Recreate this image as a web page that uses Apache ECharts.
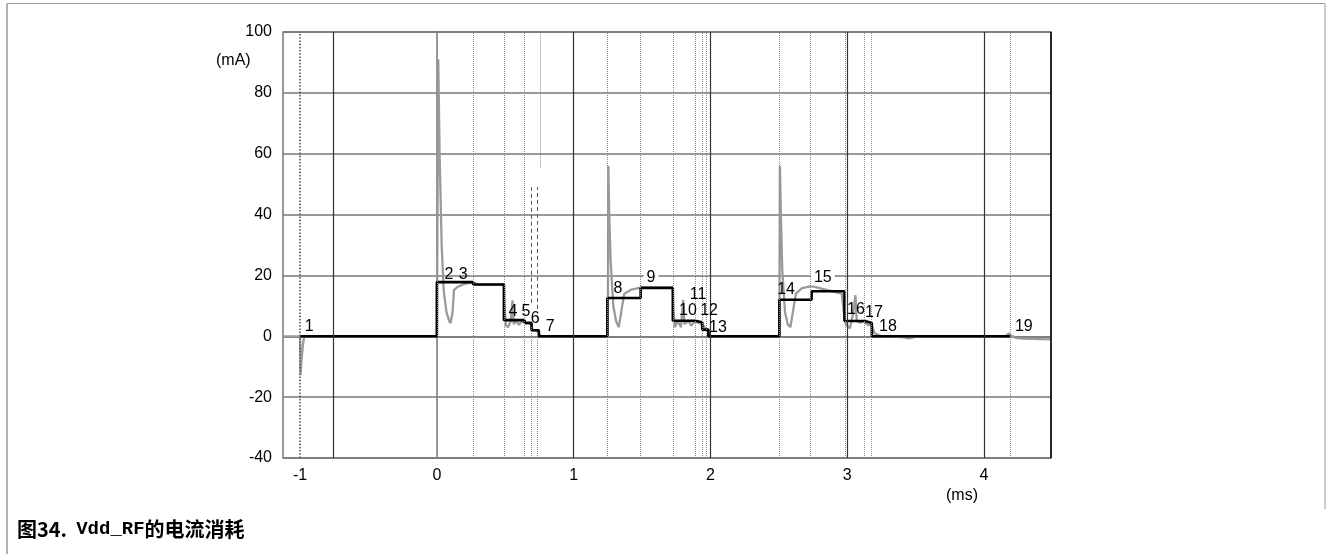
<!DOCTYPE html>
<html>
<head>
<meta charset="utf-8">
<script src="https://cdn.jsdelivr.net/npm/echarts@6/dist/echarts.min.js"></script>
<style>
  html, body { margin: 0; padding: 0; background: #fff; }
  #chart { width: 1331px; height: 554px; }
</style>
</head>
<body>
<div id="chart"></div>
<script>
// Time axis ticks (ms) and current axis ticks (mA)
const xTickValues = [-1, 0, 1, 2, 3, 4];
const yTickValues = [-40, -20, 0, 20, 40, 60, 80, 100];

// Modelled current profile: level held from stepEdges[i] to stepEdges[i+1]
const stepEdges  = [-1, 0, 0.265, 0.49, 0.642, 0.692, 0.745, 1.246, 1.49, 1.725, 1.886, 1.94, 1.985, 2.504, 2.74, 2.98, 3.13, 3.18, 4.19];
const stepLevels = [0, 17.8, 17.0, 5.3, 4.4, 2.0, 0, 12.6, 15.9, 5.1, 4.6, 2.2, 0, 12.0, 14.8, 5.0, 4.4, 0];

// Measured current trace (time ms, current mA)
const measuredTime = [
  -1.125, -1.0, -0.997, -0.99, -0.98, -0.97, 0.0,
  0.004, 0.01, 0.02, 0.035, 0.05, 0.07, 0.09, 0.10, 0.115, 0.125, 0.15, 0.2, 0.265,
  0.3, 0.49, 0.495, 0.505, 0.52, 0.54, 0.553, 0.562, 0.58, 0.6, 0.62, 0.64, 0.69, 0.70, 0.745, 0.76,
  1.25, 1.254, 1.26, 1.27, 1.29, 1.31, 1.33, 1.34, 1.355, 1.37, 1.42, 1.49,
  1.725, 1.73, 1.74, 1.76, 1.785, 1.80, 1.81, 1.84, 1.86, 1.885, 1.94, 1.985, 2.0,
  2.504, 2.508, 2.515, 2.525, 2.545, 2.565, 2.585, 2.595, 2.61, 2.625, 2.67, 2.74,
  2.96, 2.975, 2.99, 3.02, 3.045, 3.06, 3.07, 3.09, 3.13, 3.14, 3.18, 3.2, 3.25, 3.4, 3.45, 3.5, 3.6,
  4.16, 4.18, 4.2, 4.23, 4.28, 4.49
];
const measuredCurrent = [
  0, 0, -12.8, -8, -3, 0, 0,
  0, 91, 60, 30, 15, 8, 5, 4.3, 8, 15.2, 16.2, 17.2, 17.8,
  17, 17, 10, 3.5, 3, 5, 11.8, 4, 5, 3.8, 5, 4.5, 4, 2, 1.5, 0,
  0, 56, 40, 25, 10, 5, 3, 2.6, 10, 14, 15.3, 16,
  16, 8, 3, 5, 3, 12, 4, 5, 3.5, 5, 4, 1.5, 0,
  0, 56, 40, 22, 8, 4, 3, 3.2, 10, 14, 15.8, 16.5,
  14, 8, 4, 2.6, 8, 13.5, 5, 4.5, 5, 4, 3.5, 1, 0, -0.3, -0.7, -0.2, 0,
  0, 0.9, 0.3, -0.5, -0.8, -1.0
];

// Event numbers placed on the profile
const eventNames = ['1', '2', '3', '4', '5', '6', '7', '8', '9', '10', '11', '12', '13', '14', '15', '16', '17', '18', '19'];
const eventTime  = [-0.934, 0.089, 0.192, 0.557, 0.652, 0.718, 0.828, 1.324, 1.566, 1.836, 1.909, 1.99, 2.055, 2.553, 2.822, 3.064, 3.196, 3.298, 4.291];
const eventLevel = [3.3, 20.4, 20.4, 8.2, 8.2, 5.9, 3.3, 15.8, 19.4, 8.5, 13.8, 8.5, 3.0, 15.4, 19.4, 8.9, 7.9, 3.3, 3.3];
const eventBoxed = ['9', '15'];

// Solid vertical grid positions
const gridTimes = [-0.76, 1, 2, 3, 4];
// Dotted full-height event markers
const markerTimes = [0, 0.265, 0.49, 0.642, 1.246, 1.49, 1.725, 1.886, 1.94, 1.97, 2.504, 2.73, 2.985, 3.127, 3.175, 4.19];

const X_MIN = -1.125, X_MAX = 4.49, Y_MIN = -40, Y_MAX = 100;

const stepData = stepEdges.map((t, i) => [t, i < stepLevels.length ? stepLevels[i] : stepLevels[stepLevels.length - 1]]);
const measuredData = measuredTime.map((t, i) => [t, measuredCurrent[i]]);
const eventData = eventNames.map((n, i) => ({
  value: [eventTime[i], eventLevel[i]],
  name: n,
  label: eventBoxed.includes(n) ? { backgroundColor: '#fff', padding: [0, 3] } : {}
}));

function vline(x, y0, y1, style) {
  return [{ coord: [x, y0], lineStyle: style }, { coord: [x, y1] }];
}

const markLines = [];
gridTimes.forEach(t => markLines.push(vline(t, Y_MIN, Y_MAX, { color: '#333', width: 1.2, type: 'solid' })));
markerTimes.forEach(t => markLines.push(vline(t, Y_MIN, Y_MAX, { color: '#8a8a8a', width: 1, type: 'dotted' })));
// start marker, drawn heavier
markLines.push(vline(-1, Y_MIN, Y_MAX, { color: '#555', width: 1.6, type: 'dotted' }));
// short markers around the end of the first burst
markLines.push(vline(0.692, Y_MIN, 3, { color: '#8a8a8a', width: 1, type: 'dotted' }));
markLines.push(vline(0.737, Y_MIN, 1, { color: '#8a8a8a', width: 1, type: 'dotted' }));
markLines.push(vline(0.692, 11, 49, { color: '#555', width: 1, type: [4, 3] }));
markLines.push(vline(0.737, 9, 49, { color: '#555', width: 1, type: [4, 3] }));
markLines.push(vline(0.755, 55.5, Y_MAX, { color: '#8a8a8a', width: 1, type: 'dotted' }));
// right frame edge
markLines.push(vline(X_MAX, Y_MIN, Y_MAX, { color: '#000', width: 1.5, type: 'solid' }));

const chart = echarts.init(document.getElementById('chart'), null, { renderer: 'canvas' });
const FONT = 'Liberation Sans, Arial, sans-serif';

chart.setOption({
  animation: false,
  backgroundColor: '#fff',
  grid: { left: 283, right: 280, top: 32, bottom: 96, show: true, borderColor: '#777', borderWidth: 1.5 },
  xAxis: {
    type: 'value', min: X_MIN, max: X_MAX,
    axisLine: { show: true, lineStyle: { color: '#777', width: 1.5 } },
    axisTick: { show: false },
    splitLine: { show: false },
    axisLabel: { customValues: xTickValues, color: '#000', fontSize: 16, fontFamily: FONT, margin: 10 }
  },
  yAxis: {
    type: 'value', min: Y_MIN, max: Y_MAX, interval: 20,
    axisLine: { show: true, lineStyle: { color: '#777', width: 1.5 } },
    axisTick: { show: false },
    splitLine: { show: true, lineStyle: { color: '#777', width: 1.6 } },
    axisLabel: { color: '#000', fontSize: 16, fontFamily: FONT, margin: 11 }
  },
  series: [
    {
      type: 'line', data: [], silent: true,
      markLine: { silent: true, symbol: 'none', label: { show: false }, data: markLines }
    },
    {
      type: 'line', data: measuredData, showSymbol: false, silent: true,
      lineStyle: { color: '#9a9a9a', width: 2.3 }, z: 3
    },
    {
      type: 'line', data: stepData, step: 'end', showSymbol: false, silent: true,
      lineStyle: { color: '#000', width: 2.6 }, z: 4
    },
    {
      type: 'scatter', data: eventData, symbolSize: 0, silent: true, z: 5,
      itemStyle: { opacity: 1 },
      label: { show: true, position: 'inside', formatter: p => p.name, color: '#000', opacity: 1, fontSize: 16, fontFamily: FONT }
    }
  ],
  graphic: [
    { type: 'text', left: 216, top: 53, style: { text: '(mA)', font: '16px ' + FONT, fill: '#000' } },
    { type: 'text', left: 946, top: 488, style: { text: '(ms)', font: '16px ' + FONT, fill: '#000' } },
    { type: 'line', shape: { x1: 7, y1: 3.5, x2: 1325, y2: 3.5 }, style: { stroke: '#999', lineWidth: 1 } },
    { type: 'line', shape: { x1: 7, y1: 3.5, x2: 7, y2: 554 }, style: { stroke: '#999', lineWidth: 1.5 } },
    { type: 'line', shape: { x1: 1325, y1: 3.5, x2: 1325, y2: 509 }, style: { stroke: '#999', lineWidth: 1 } },
    {
      type: 'text', left: 17, top: 519,
      style: {
        text: '{a|图34.  }{b|Vdd_RF}{a|的电流消耗}',
        rich: {
          a: { font: 'bold 20px "Noto Sans CJK SC", "Liberation Sans", sans-serif', fill: '#000' },
          b: { font: 'bold 19px "Liberation Mono", "DejaVu Sans Mono", monospace', fill: '#000' }
        }
      }
    }
  ]
});
</script>
</body>
</html>
